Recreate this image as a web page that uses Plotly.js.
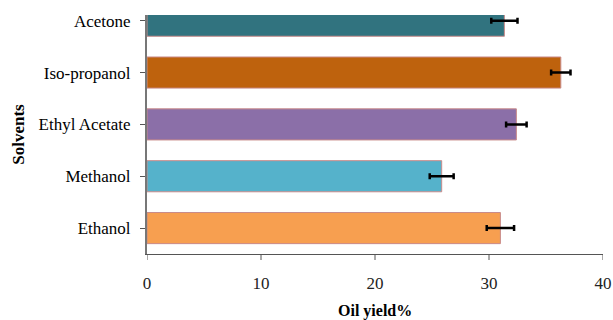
<!DOCTYPE html>
<html><head><meta charset="utf-8">
<script src="https://cdn.plot.ly/plotly-3.0.1.min.js"></script>
<style>html,body{margin:0;padding:0;background:#fff}#chart{width:613px;height:320px}</style>
</head><body><div id="chart"></div>
<script>
const solvents = ["Ethanol", "Methanol", "Ethyl Acetate", "Iso-propanol", "Acetone"];
const oilYield = [31.0, 25.85, 32.4, 36.3, 31.35];
const yieldErr = [1.2, 1.05, 0.9, 0.85, 1.15];
const barColors = ["#F79F50", "#55B2CB", "#8B6FA8", "#BE620D", "#31737F"];
const xTicks = [0, 10, 20, 30, 40];
const xTitle = "Oil yield%";
const yTitle = "Solvents";

const font = "Liberation Serif";
const tickShapes = xTicks.map(v => ({
  type: "line", xref: "x", yref: "paper", ysizemode: "pixel", yanchor: 0,
  x0: v, x1: v, y0: 0, y1: -6, line: {color: "#555", width: 1}
}));
Plotly.newPlot("chart", [{
  type: "bar", orientation: "h",
  y: solvents, x: oilYield,
  width: 0.6,
  marker: {color: barColors, line: {color: "#C98B8A", width: 1}},
  error_x: {type: "data", array: yieldErr, visible: true, color: "#000", thickness: 2.5, width: 3}
}], {
  width: 613, height: 320,
  margin: {l: 147, r: 10, t: 15, b: 66},
  paper_bgcolor: "#fff", plot_bgcolor: "#fff",
  showlegend: false,
  font: {family: font, size: 17, color: "#000"},
  shapes: tickShapes,
  annotations: [{
    text: "<b>" + xTitle + "</b>", xref: "paper", yref: "paper", x: 0.5, y: 0,
    xanchor: "center", yanchor: "middle", yshift: -57, showarrow: false,
    font: {family: font, size: 16, color: "#000"}
  }],
  xaxis: {
    range: [0, 40], tickvals: xTicks, ticktext: xTicks.map(String),
    showgrid: false, zeroline: false, showline: true, linecolor: "#555", linewidth: 1,
    ticks: "outside", ticklen: 14, tickcolor: "rgba(0,0,0,0)",
    tickfont: {family: font, size: 17, color: "#222"}
  },
  yaxis: {
    type: "category", categoryorder: "array", categoryarray: solvents,
    range: [-0.5, 4.11],
    showgrid: false, zeroline: false, showline: true, linecolor: "#777", linewidth: 2,
    ticks: "outside", ticklen: 5, tickcolor: "#555", ticklabelstandoff: 6,
    tickfont: {family: font, size: 17, color: "#000"},
    title: {text: "<b>" + yTitle + "</b>", font: {family: font, size: 17, color: "#000"}, standoff: 10}
  }
}, {displayModeBar: false, staticPlot: true});
</script></body></html>
